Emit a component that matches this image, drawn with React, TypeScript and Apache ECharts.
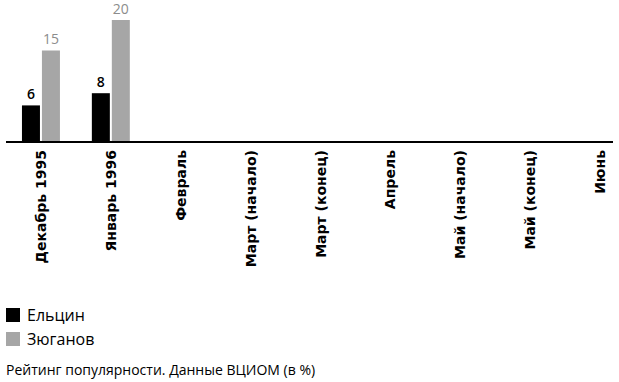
import React, { useEffect, useRef } from "react";
import * as echarts from "echarts";

const categories = [
  "Декабрь 1995",
  "Январь 1996",
  "Февраль",
  "Март (начало)",
  "Март (конец)",
  "Апрель",
  "Май (начало)",
  "Май (конец)",
  "Июнь",
];
const yeltsin: (number | null)[] = [6, 8, null, null, null, null, null, null, null];
const zyuganov: (number | null)[] = [15, 20, null, null, null, null, null, null, null];
const seriesNames = ["Ельцин", "Зюганов"];
const caption = "Рейтинг популярности. Данные ВЦИОМ (в %)";

const FONT = "'Open Sans', sans-serif";
const LABEL_FONT = "'DejaVu Sans', sans-serif";

export default function App() {
  const ref = useRef<HTMLDivElement>(null);
  useEffect(() => {
    if (!ref.current) return;
    const chart = echarts.init(ref.current, null, { renderer: "svg" });
    chart.setOption({
      animation: false,
      backgroundColor: "#fff",
      textStyle: { fontFamily: FONT },
      grid: { left: 6, right: 0, top: 20, height: 122, containLabel: false },
      xAxis: {
        type: "category",
        data: categories,
        axisLine: { show: false },
        axisTick: { show: false },
        axisLabel: {
          rotate: 90,
          interval: 0,
          margin: 8,
          fontSize: 14,
          fontWeight: "bold",
          color: "#000",
          fontFamily: LABEL_FONT,
        },
      },
      yAxis: {
        type: "value",
        min: 0,
        max: 20,
        show: false,
        splitLine: { show: false },
      },
      legend: {
        orient: "vertical",
        left: 6,
        top: 307,
        padding: 0,
        itemWidth: 14,
        itemHeight: 14,
        itemGap: 8,
        icon: "rect",
        data: seriesNames,
        textStyle: { fontSize: 16, color: "#000", fontFamily: FONT, padding: [0, 0, 0, 2] },
      },
      title: {
        text: caption,
        left: 1,
        top: 357,
        textStyle: { fontSize: 14, fontWeight: "normal", color: "#000", fontFamily: FONT },
      },
      graphic: [
        {
          type: "line",
          shape: { x1: 6, y1: 142, x2: 613, y2: 142 },
          style: { stroke: "#000", lineWidth: 2 },
          z: 10,
        },
      ],
      series: [
        {
          name: seriesNames[0],
          type: "bar",
          data: yeltsin,
          barWidth: 18,
          barGap: "11%",
          itemStyle: { color: "#000" },
          label: {
            show: true,
            position: "top",
            distance: 5,
            fontSize: 14,
            fontWeight: 600,
            color: "#000",
            fontFamily: FONT,
          },
        },
        {
          name: seriesNames[1],
          type: "bar",
          data: zyuganov,
          barWidth: 18,
          barGap: "11%",
          itemStyle: { color: "#a6a6a6" },
          label: {
            show: true,
            position: "top",
            distance: 5,
            fontSize: 14,
            color: "#8c8c8c",
            fontFamily: FONT,
          },
        },
      ],
    });
    return () => chart.dispose();
  }, []);
  return (
    <div style={{ position: "fixed", left: 0, top: 0, width: 619, height: 382, overflow: "hidden" }}>
      <div ref={ref} style={{ width: 635, height: 382 }} />
    </div>
  );
}
